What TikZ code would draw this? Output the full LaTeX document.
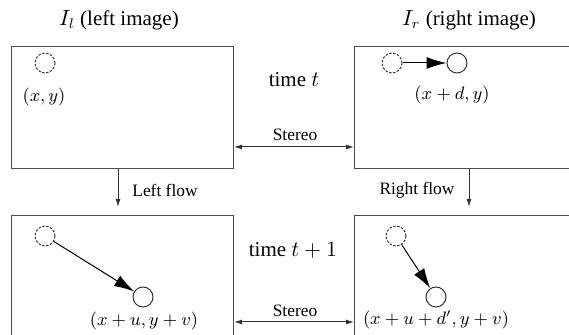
\documentclass[tikz,border=0pt]{standalone}
\usepackage{fontspec}
\setmainfont{Liberation Serif}
\usetikzlibrary{arrows.meta}
\tikzset{stip/.tip={Latex[length=4pt,width=2.5pt]}}
\begin{document}
\begin{tikzpicture}[x=0.5pt,y=-0.5pt,
  frame/.style={draw=black!70, line width=0.5pt, minimum width=111pt, minimum height=61pt, inner sep=0pt, anchor=north west},
  bigtext/.style={font=\fontsize{10.5}{12}\selectfont, inner sep=0pt},
  smalltext/.style={font=\fontsize{8.7}{10}\selectfont, inner sep=0pt},
  coordtext/.style={font=\fontsize{9}{10}\selectfont, inner sep=0pt},
  pix/.style={circle, draw=black!80, line width=0.5pt, minimum size=10pt, inner sep=0pt},
  ghost/.style={pix, dash pattern=on 1.2pt off 0.8pt},
  motion/.style={draw=black, line width=0.5pt, -{Latex[length=10pt,width=6pt]}},
  link/.style={draw=black!80, line width=0.5pt}]
\useasboundingbox (0,0) rectangle (569,335);
\clip (0,0) rectangle (569,335);
% frames
\node[frame] (tl) at (11,46) {};
\node[frame] (tr) at (354,46) {};
\node[frame] (bl) at (11,215) {};
\node[frame] (br) at (354,215) {};
% titles
\node[bigtext] (ttl) at (119,20) {$I_l$ (left image)};
\node[bigtext] (ttr) at (469,20) {$I_r$ (right image)};
\node[bigtext] (time1) at (294,80) {time $t$};
\node[bigtext] (time2) at (293,250) {time $t+1$};
% pixels
\node[ghost] (c1) at (45,63) {};
\node[ghost] (c2a) at (392,63) {};
\node[pix] (c2b) at (457,63) {};
\node[ghost] (c3a) at (45,236) {};
\node[pix] (c3b) at (143,297) {};
\node[ghost] (c4a) at (396,236) {};
\node[pix] (c4b) at (436,297) {};
\draw[motion] (c2a) -- (c2b);
\draw[motion] (c3a) -- (c3b);
\draw[motion] (c4a) -- (c4b);
% coordinate labels
\node[coordtext] (l1) at (44,97) {$(x,y)$};
\node[coordtext] (l2) at (452,95) {$(x+d,y)$};
\node[coordtext] (l3) at (144,321) {$(x+u,y+v)$};
\node[coordtext] (l4) at (436,320) {$(x+u+d',y+v)$};
% stereo links
\coordinate (s1) at (0,147);
\coordinate (s2) at (0,322);
\draw[link, stip-stip] (tl.east |- s1) -- (tr.west |- s1);
\draw[link, stip-stip] (bl.east |- s2) -- (br.west |- s2);
\node[smalltext] (st1) at (295,135) {Stereo};
\node[smalltext] (st2) at (295,311) {Stereo};
% flow links
\coordinate (f1) at (118,0);
\coordinate (f2) at (469,0);
\draw[link, -stip, shorten >=4pt] (tl.south -| f1) -- (bl.north -| f1);
\draw[link, -stip, shorten >=4pt] (tr.south -| f2) -- (br.north -| f2);
\node[smalltext] (lf) at (165,190) {Left flow};
\node[smalltext] (rf) at (417,190) {Right flow};
\end{tikzpicture}
\end{document}
